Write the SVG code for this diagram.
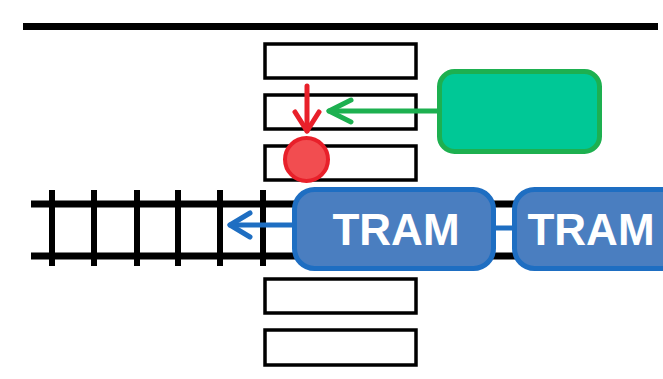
<svg xmlns="http://www.w3.org/2000/svg" width="663" height="379" viewBox="0 0 663 379">
<style>
.stripe{fill:#fff;stroke:#000;stroke-width:3.5}
.rail{stroke:#000;stroke-width:7;fill:none}
.tie{stroke:#000;stroke-width:6;fill:none}
.tram{fill:#4A7EC0;stroke:#1E6EC2;stroke-width:5}
.tramtxt{font-family:"Liberation Sans",Arial,sans-serif;font-weight:bold;font-size:44px;fill:#fff;text-anchor:middle}
</style>
<rect width="663" height="379" fill="#fff"/>
<g id="road-edge"><line x1="23" y1="26.5" x2="658" y2="26.5" stroke="#000" stroke-width="7"/></g>
<g id="crosswalk">
<rect class="stripe" x="265" y="44" width="151" height="34"/>
<rect class="stripe" x="265" y="95" width="151" height="34"/>
<rect class="stripe" x="265" y="146" width="151" height="34"/>
<rect class="stripe" x="265" y="279" width="151" height="34"/>
<rect class="stripe" x="265" y="330" width="151" height="35"/>
</g>
<g id="track">
<line class="rail" x1="31" y1="204" x2="663" y2="204"/>
<line class="rail" x1="31" y1="256" x2="663" y2="256"/>
<line class="tie" x1="52" y1="190" x2="52" y2="266"/>
<line class="tie" x1="94" y1="190" x2="94" y2="266"/>
<line class="tie" x1="137" y1="190" x2="137" y2="266"/>
<line class="tie" x1="178" y1="190" x2="178" y2="266"/>
<line class="tie" x1="220" y1="190" x2="220" y2="266"/>
<line class="tie" x1="263" y1="190" x2="263" y2="266"/>
</g>
<g id="car"><rect x="439.5" y="71.5" width="160" height="80" rx="15" fill="#00C896" stroke="#1DB050" stroke-width="5"/></g>
<g id="connectors" fill="none" stroke-linecap="round" stroke-linejoin="round">
<g stroke="#1DB050" stroke-width="5">
<line x1="439" y1="111" x2="329" y2="111"/>
<polyline points="351,100 329,111 351,122"/>
</g>
<g stroke="#E8202A" stroke-width="5">
<line x1="307" y1="86" x2="307" y2="131"/>
<polyline points="295,112 307,131 319,112"/>
</g>
<g stroke="#1E6EC2" stroke-width="5">
<line x1="293" y1="225" x2="230" y2="225"/>
<polyline points="250,213 230,225 250,237"/>
<line x1="496" y1="228" x2="512" y2="228"/>
</g>
</g>
<g id="pedestrian"><circle cx="306.5" cy="159.5" r="21.5" fill="#F24D50" stroke="#E8202A" stroke-width="4"/></g>
<g id="tram1">
<rect class="tram" x="294.5" y="189.5" width="199" height="79" rx="20"/>
<text class="tramtxt" x="396" y="245">TRAM</text>
</g>
<g id="tram2">
<rect class="tram" x="514.5" y="189.5" width="199" height="79" rx="20"/>
<text class="tramtxt" x="591" y="245">TRAM</text>
</g>
</svg>
